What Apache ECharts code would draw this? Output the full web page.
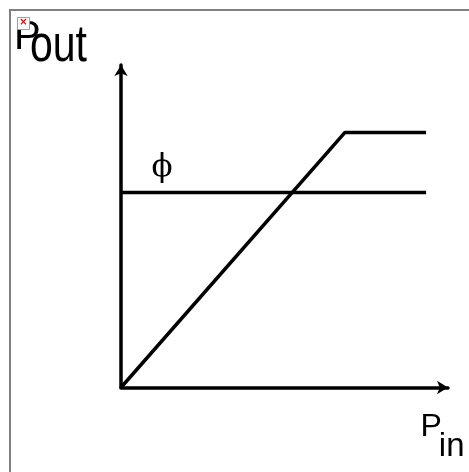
<!DOCTYPE html>
<html>
<head>
<meta charset="UTF-8">
<title>Pout vs Pin</title>
<script src="https://cdn.jsdelivr.net/npm/echarts@6/dist/echarts.min.js"></script>
<style>
    html, body { margin: 0; padding: 0; background: #fff; }
    #main { width: 469px; height: 472px; }
</style>
</head>
<body>
<div id="main"></div>
<script>
    // transfer curve: linear rise then saturation (axis units 0..100)
    var transferX = [0, 68.5, 93.3];
    var transferY = [0, 79.1, 79.1];
    // threshold level phi
    var phiX = [0, 93.3];
    var phiY = [60.5, 60.5];

    function pairs(xs, ys) {
        var out = [];
        for (var i = 0; i < xs.length; i++) out.push([xs[i], ys[i]]);
        return out;
    }

    var axisLine = {
        show: true,
        symbol: ['none', 'arrow'],
        symbolSize: [10, 11],
        lineStyle: {color: '#000', width: 3.5}
    };

    var chart = echarts.init(document.getElementById('main'));
    chart.setOption({
        backgroundColor: '#fff',
        animation: false,
        grid: {left: 121, top: 65, right: 21, bottom: 84.5},
        xAxis: {
            type: 'value', min: 0, max: 100,
            axisLine: axisLine,
            axisTick: {show: false}, axisLabel: {show: false}, splitLine: {show: false}
        },
        yAxis: {
            type: 'value', min: 0, max: 100,
            axisLine: axisLine,
            axisTick: {show: false}, axisLabel: {show: false}, splitLine: {show: false}
        },
        series: [
            {
                name: 'Pout', type: 'line', data: pairs(transferX, transferY),
                showSymbol: false, lineStyle: {color: '#000', width: 3.5}
            },
            {
                name: 'phi', type: 'line', data: pairs(phiX, phiY),
                showSymbol: false, lineStyle: {color: '#000', width: 3.5}
            }
        ],
        graphic: [
            {
                type: 'rect', shape: {x: 10, y: 10, width: 480, height: 480},
                style: {fill: 'none', stroke: '#808080', lineWidth: 2}, silent: true
            },
            {
                type: 'text', x: 14, y: 37.5,
                style: {text: 'P', font: '40px "Liberation Sans"', fill: '#000',
                    textAlign: 'left', textVerticalAlign: 'middle'}
            },
            {
                type: 'text', x: 30, y: 47, scaleY: 1.25,
                style: {text: 'out', font: '41px "Liberation Sans"', fill: '#000',
                    textAlign: 'left', textVerticalAlign: 'middle'}
            },
            {
                type: 'rect', shape: {x: 17.5, y: 17.5, width: 12, height: 12},
                style: {fill: '#fff', stroke: '#a0a0a0', lineWidth: 1}, z: 10
            },
            {
                type: 'text', x: 23.5, y: 22.5, z: 11,
                style: {text: '×', font: 'bold 10px "DejaVu Sans"', fill: '#e00000',
                    textAlign: 'center', textVerticalAlign: 'middle'}
            },
            {
                type: 'text', x: 162, y: 168,
                style: {text: 'ϕ', font: '31px "DejaVu Serif"', fill: '#000',
                    textAlign: 'center', textVerticalAlign: 'middle'}
            },
            {
                type: 'text', x: 420.4, y: 427,
                style: {text: 'P', font: '32px "Liberation Sans"', fill: '#000',
                    textAlign: 'left', textVerticalAlign: 'middle'}
            },
            {
                type: 'text', x: 438.8, y: 446.5,
                style: {text: 'in', font: '33px "Liberation Sans"', fill: '#000',
                    textAlign: 'left', textVerticalAlign: 'middle'}
            }
        ]
    });
</script>
</body>
</html>
